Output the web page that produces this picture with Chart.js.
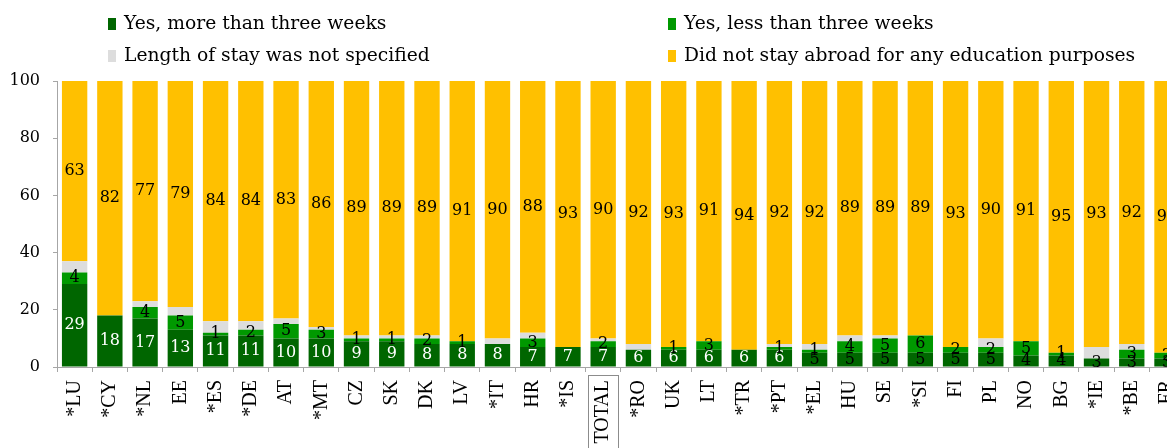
<!DOCTYPE html>
<html>
<head>
<meta charset="utf-8">
<script src="https://cdn.jsdelivr.net/npm/chart.js@4/dist/chart.umd.min.js"></script>
<style>
  html,body{margin:0;padding:0;background:#fff;}
  #wrap{position:relative;width:1167px;height:448px;overflow:hidden;}
  #chartBox{position:absolute;left:0;top:0;width:1199px;height:448px;}
  .leg{position:absolute;font-family:"DejaVu Serif",serif;font-size:18.7px;color:#000;white-space:nowrap;line-height:22px;}
  .leg span{display:inline-block;width:8px;height:12px;margin-right:8px;vertical-align:-1px;}
</style>
</head>
<body>
<div id="wrap">
  <div id="chartBox"><canvas id="c" width="1199" height="448"></canvas></div>
  <div class="leg" style="left:108px;top:12px;"><span style="background:#006600"></span>Yes, more than three weeks</div>
  <div class="leg" style="left:668px;top:12px;"><span style="background:#009900"></span>Yes, less than three weeks</div>
  <div class="leg" style="left:108px;top:44px;"><span style="background:#dddddd"></span>Length of stay was not specified</div>
  <div class="leg" style="left:668px;top:44px;"><span style="background:#ffc000"></span>Did not stay abroad for any education purposes</div>
</div>
<script>
const categories = ['*LU','*CY','*NL','EE','*ES','*DE','AT','*MT','CZ','SK','DK','LV','*IT','HR','*IS','TOTAL','*RO','UK','LT','*TR','*PT','*EL','HU','SE','*SI','FI','PL','NO','BG','*IE','*BE','FR'];
const moreThanThreeWeeks = [29,18,17,13,11,11,10,10,9,9,8,8,8,7,7,7,6,6,6,6,6,5,5,5,5,5,5,4,4,3,3,3];
const lessThanThreeWeeks = [4,0,4,5,1,2,5,3,1,1,2,1,0,3,0,2,0,1,3,0,1,1,4,5,6,2,2,5,1,0,3,2];
const notSpecified = [4,0,2,3,4,3,2,1,1,1,1,0,2,2,0,1,2,0,0,0,1,2,2,1,0,0,3,0,0,4,2,0];
const didNotStay = [63,82,77,79,84,84,83,86,89,89,89,91,90,88,93,90,92,93,91,94,92,92,89,89,89,93,90,91,95,93,92,95];
const yTicks = [0,20,40,60,80,100];

const labelPlugin = {
  id: 'segLabels',
  afterDatasetsDraw(chart) {
    const ctx = chart.ctx;
    ctx.save();
    ctx.font = '16px "DejaVu Serif", serif';
    ctx.textAlign = 'center';
    ctx.textBaseline = 'middle';
    chart.data.datasets.forEach((ds, i) => {
      if (ds.noLabel) return;
      const meta = chart.getDatasetMeta(i);
      meta.data.forEach((bar, j) => {
        const v = ds.data[j];
        if (!v) return;
        const y = (bar.y + bar.base) / 2;
        ctx.fillStyle = (i === 0 && v >= 6) ? '#ffffff' : '#000000';
        ctx.fillText(String(v), bar.x, y);
      });
    });
    ctx.restore();
  },
  afterDraw(chart) {
    const xs = chart.scales.x;
    const idx = categories.indexOf('TOTAL');
    const x = xs.getPixelForValue(idx);
    const ctx = chart.ctx;
    ctx.save();
    ctx.strokeStyle = '#8c8c8c';
    ctx.lineWidth = 1;
    ctx.strokeRect(Math.round(x - 15) + 0.5, xs.top + 8.5, 30, 100);
    ctx.restore();
  }
};

new Chart(document.getElementById('c'), {
  type: 'bar',
  data: {
    labels: categories,
    datasets: [
      {label: 'Yes, more than three weeks', data: moreThanThreeWeeks, backgroundColor: '#006600'},
      {label: 'Yes, less than three weeks', data: lessThanThreeWeeks, backgroundColor: '#009900'},
      {label: 'Length of stay was not specified', data: notSpecified, backgroundColor: '#dddddd', noLabel: true},
      {label: 'Did not stay abroad for any education purposes', data: didNotStay, backgroundColor: '#ffc000'}
    ]
  },
  options: {
    responsive: false,
    animation: false,
    events: [],
    barPercentage: 0.72,
    categoryPercentage: 1,
    layout: {padding: {top: 81, left: 0, right: 0, bottom: 0}},
    plugins: {legend: {display: false}, tooltip: {enabled: false}},
    scales: {
      x: {
        stacked: true,
        grid: {display: true, drawOnChartArea: false, drawTicks: true, tickLength: 5, offset: true, color: '#a6a6a6'},
        border: {display: true, color: '#a6a6a6'},
        ticks: {maxRotation: 90, minRotation: 90, autoSkip: false, padding: 8, color: '#000',
                font: {family: '"Liberation Serif", serif', size: 20}},
        afterFit(scale) { scale.height = 81; }
      },
      y: {
        stacked: true,
        min: 0, max: 100,
        afterBuildTicks(scale) { scale.ticks = yTicks.map(v => ({value: v})); },
        grid: {display: true, drawOnChartArea: false, drawTicks: true, tickLength: 4, color: '#a6a6a6'},
        border: {display: true, color: '#a6a6a6'},
        ticks: {padding: 13, color: '#000', font: {family: '"DejaVu Serif", serif', size: 16}},
        afterFit(scale) { scale.width = 57; }
      }
    }
  },
  plugins: [labelPlugin]
});
</script>
</body>
</html>
